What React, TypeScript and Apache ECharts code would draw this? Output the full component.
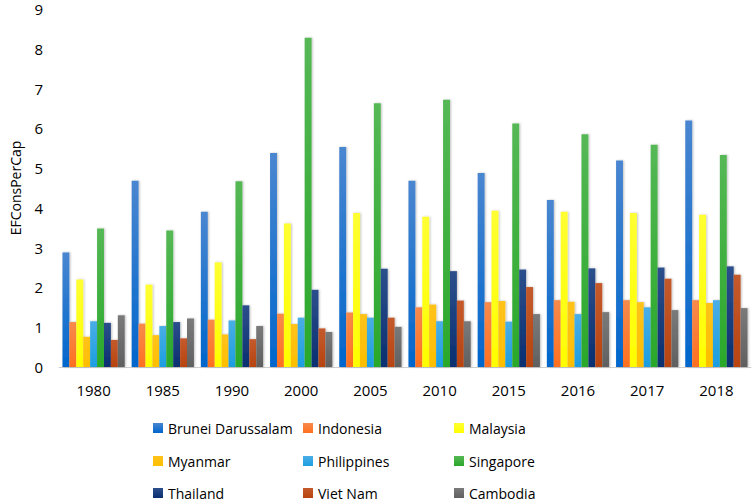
import React, { useEffect, useRef } from "react";
import * as echarts from "echarts";

const years = ["1980", "1985", "1990", "2000", "2005", "2010", "2015", "2016", "2017", "2018"];
const yTicks = [0, 1, 2, 3, 4, 5, 6, 7, 8, 9];

const brunei = [2.88, 4.68, 3.9, 5.38, 5.53, 4.68, 4.88, 4.2, 5.19, 6.2];
const indonesia = [1.13, 1.09, 1.19, 1.34, 1.37, 1.5, 1.63, 1.68, 1.68, 1.68];
const malaysia = [2.2, 2.07, 2.63, 3.61, 3.87, 3.78, 3.93, 3.9, 3.87, 3.83];
const myanmar = [0.76, 0.8, 0.82, 1.08, 1.33, 1.57, 1.66, 1.64, 1.63, 1.61];
const philippines = [1.15, 1.03, 1.17, 1.24, 1.24, 1.15, 1.14, 1.33, 1.5, 1.68];
const singapore = [3.48, 3.43, 4.67, 8.28, 6.63, 6.72, 6.12, 5.85, 5.59, 5.33];
const thailand = [1.11, 1.13, 1.55, 1.94, 2.47, 2.41, 2.45, 2.48, 2.5, 2.53];
const vietnam = [0.68, 0.72, 0.7, 0.97, 1.24, 1.67, 2.01, 2.11, 2.22, 2.32];
const cambodia = [1.3, 1.22, 1.03, 0.88, 1.01, 1.15, 1.33, 1.38, 1.43, 1.48];

const seriesNames = [
  "Brunei Darussalam",
  "Indonesia",
  "Malaysia",
  "Myanmar",
  "Philippines",
  "Singapore",
  "Thailand",
  "Viet Nam",
  "Cambodia",
];
const seriesData = [brunei, indonesia, malaysia, myanmar, philippines, singapore, thailand, vietnam, cambodia];
const colorsTop = ["#4a86d0", "#f78a4c", "#ffff33", "#ffc21a", "#4aaee6", "#55b855", "#2c4f8c", "#c45a2c", "#7a7a7a"];
const colorsBottom = ["#0066cc", "#ff7020", "#ffff00", "#ffbf00", "#1c9ee0", "#2aa82a", "#0a2f70", "#b84410", "#606060"];
const legendColors = ["#1f6fd0", "#f47a30", "#ffff00", "#ffc000", "#2aa3e0", "#3cae3c", "#1a3f7e", "#bb4b18", "#6d6d6d"];

const legendColLeft = [153, 303, 454];
const legendRowCenter = [428, 461, 493];

const FONT = "Open Sans";

export default function App() {
  const ref = useRef<HTMLDivElement>(null);
  useEffect(() => {
    if (!ref.current) return;
    const chart = echarts.init(ref.current, null, { renderer: "svg" });
    const option: any = {
      animation: false,
      backgroundColor: "#ffffff",
      textStyle: { fontFamily: FONT },
      grid: { left: 48, right: 3, top: 9, bottom: 134, containLabel: false },
      legend: seriesNames.map((name, i) => ({
        orient: "horizontal",
        left: legendColLeft[i % 3],
        top: legendRowCenter[Math.floor(i / 3)] - 8,
        padding: 0,
        itemWidth: 10,
        itemHeight: 10,
        icon: "rect",
        selectedMode: false,
        data: [name],
        textStyle: { fontFamily: FONT, fontSize: 14, color: "#000", lineHeight: 16, padding: [0, 0, 0, 0] },
      })),
      xAxis: {
        type: "category",
        data: years,
        axisLine: { show: true, lineStyle: { color: "#d0d0d0", width: 1 } },
        axisTick: { show: false },
        axisLabel: { color: "#000", fontSize: 15, fontFamily: FONT, margin: 15 },
        splitLine: { show: false },
      },
      yAxis: {
        type: "value",
        min: 0,
        max: 9,
        interval: 1,
        name: "EFConsPerCap",
        nameLocation: "middle",
        nameGap: 37,
        nameTextStyle: { color: "#000", fontSize: 14, fontFamily: FONT },
        axisLine: { show: false },
        axisTick: { show: false },
        splitLine: { show: false },
        axisLabel: {
          color: "#000",
          fontSize: 15,
          fontFamily: FONT,
          lineHeight: 14,
          margin: 16,
          formatter: (v: number) => (yTicks.includes(v) ? String(v) : ""),
        },
      },
      series: seriesNames.map((name, i) => ({
        name,
        type: "bar",
        data: seriesData[i],
        barGap: "0%",
        barCategoryGap: "10%",
        color: legendColors[i],
        itemStyle: {
          color: new echarts.graphic.LinearGradient(0, 0, 0, 1, [
            { offset: 0, color: colorsTop[i] },
            { offset: 1, color: colorsBottom[i] },
          ]),
          shadowColor: "rgba(0,0,0,0.25)",
          shadowBlur: 2,
          shadowOffsetX: 1,
          shadowOffsetY: 0,
        },
      })),
    };
    chart.setOption(option);
    return () => chart.dispose();
  }, []);
  return (
    <div
      ref={ref}
      style={{ position: "fixed", left: 0, top: 0, width: 754, height: 501 }}
    />
  );
}
